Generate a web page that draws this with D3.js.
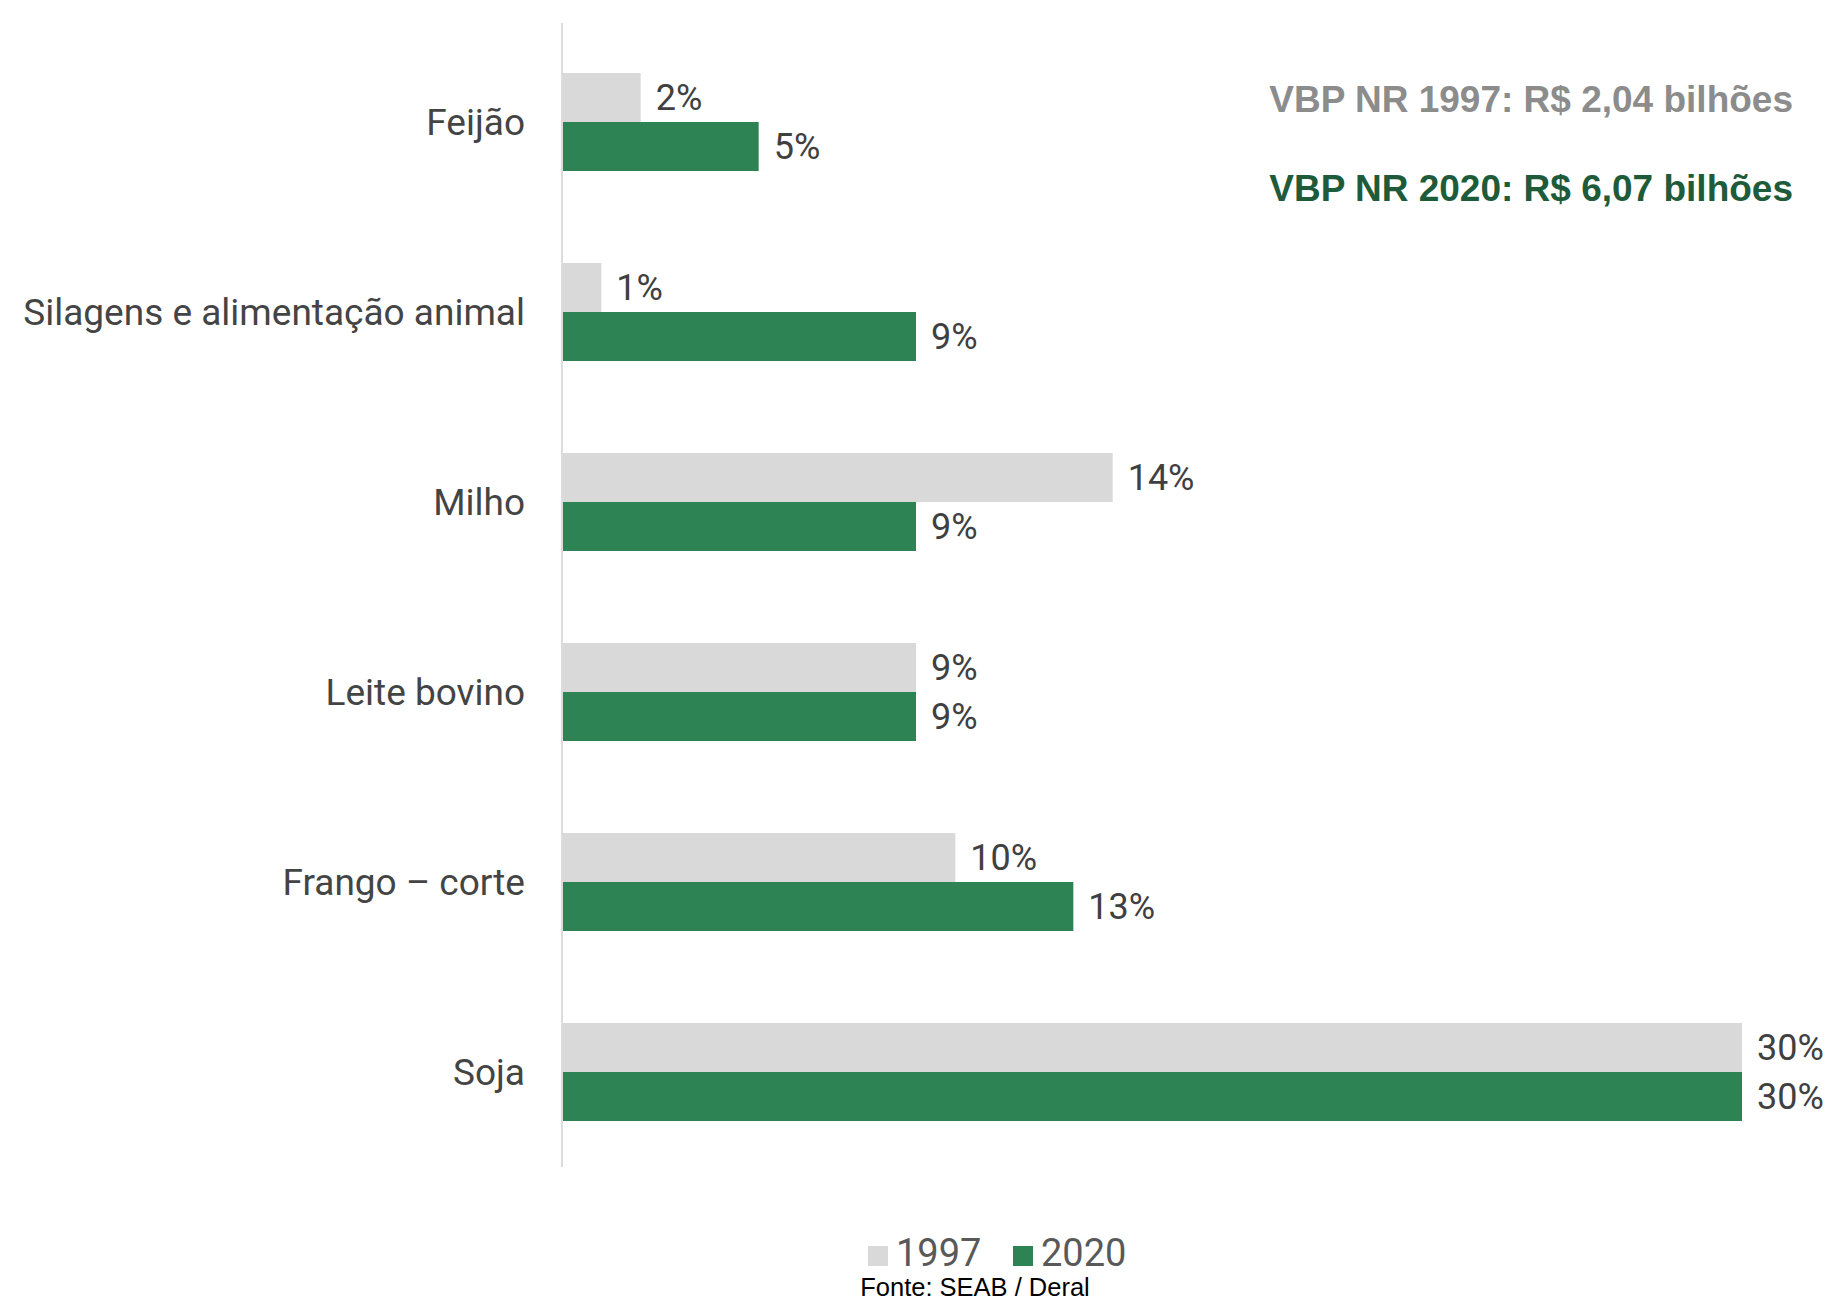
<!DOCTYPE html>
<html>
<head>
<meta charset="utf-8">
<script src="https://cdn.jsdelivr.net/npm/d3@7"></script>
<style>
  html, body { margin: 0; padding: 0; background: #ffffff; }
  svg { display: block; }
</style>
</head>
<body>
<svg id="chart" width="1833" height="1303"></svg>
<script>
// ---- data ----
const categories = ["Feijão", "Silagens e alimentação animal", "Milho", "Leite bovino", "Frango – corte", "Soja"];
const seriesNames = ["1997", "2020"];
const values1997 = [2, 1, 14, 9, 10, 30];
const values2020 = [5, 9, 9, 9, 13, 30];
const noteLines = ["VBP NR 1997: R$ 2,04 bilhões", "VBP NR 2020: R$ 6,07 bilhões"];
const sourceText = "Fonte: SEAB / Deral";

const colors = { "1997": "#d9d9d9", "2020": "#2e8355" };
const labelFont = "'Roboto', 'Lato', sans-serif";

const rows = categories.map((c, i) => ({ cat: c, "1997": values1997[i], "2020": values2020[i] }));

const svg = d3.select("#chart");

const x = d3.scaleLinear().domain([0, 30]).range([562, 1742]);
const y = d3.scaleBand().domain(categories).range([27, 1167]).paddingInner(0).paddingOuter(0);
const y1 = d3.scaleBand().domain(seriesNames).range([46, 144]).padding(0);

// vertical axis line
svg.append("line")
  .attr("x1", 562).attr("x2", 562)
  .attr("y1", 23).attr("y2", 1167)
  .attr("stroke", "#d0d0d0").attr("stroke-width", 1.5);

const groups = svg.append("g").selectAll("g")
  .data(rows).join("g")
  .attr("transform", d => `translate(0,${y(d.cat)})`);

groups.selectAll("rect")
  .data(d => seriesNames.map(s => ({ s, v: d[s] })))
  .join("rect")
  .attr("x", x(0) + 1)
  .attr("y", d => y1(d.s))
  .attr("width", d => x(d.v) - x(0) - 1)
  .attr("height", y1.bandwidth())
  .attr("fill", d => colors[d.s]);

groups.selectAll("text.val")
  .data(d => seriesNames.map(s => ({ s, v: d[s] })))
  .join("text")
  .attr("class", "val")
  .attr("x", d => x(d.v) + 15)
  .attr("y", d => y1(d.s) + y1.bandwidth() / 2)
  .attr("dy", "0.36em")
  .attr("font-family", labelFont)
  .attr("font-size", 36)
  .attr("fill", "#404040")
  .text(d => d.v + "%");

// category labels
svg.append("g").selectAll("text")
  .data(categories).join("text")
  .attr("x", 525)
  .attr("y", d => y(d) + y.bandwidth() / 2)
  .attr("dy", "0.36em")
  .attr("text-anchor", "end")
  .attr("font-family", labelFont)
  .attr("font-size", 37)
  .attr("fill", "#444444")
  .text(d => d);

// notes top right
svg.append("g").selectAll("text")
  .data(noteLines).join("text")
  .attr("x", 1793)
  .attr("y", (d, i) => 112 + i * 89)
  .attr("text-anchor", "end")
  .attr("font-family", "'Liberation Sans', Arial, sans-serif")
  .attr("font-weight", "bold")
  .attr("font-size", 37)
  .attr("fill", (d, i) => i === 0 ? "#8c8c8c" : "#1e5b3a")
  .text(d => d);

// legend
const legendItems = [
  { s: "1997", x: 868 },
  { s: "2020", x: 1013 }
];
const lg = svg.append("g").selectAll("g").data(legendItems).join("g")
  .attr("transform", d => `translate(${d.x},0)`);
lg.append("rect")
  .attr("x", 0).attr("y", 1246).attr("width", 20).attr("height", 20)
  .attr("fill", d => colors[d.s]);
lg.append("text")
  .attr("x", 28).attr("y", 1266)
  .attr("font-family", labelFont)
  .attr("font-size", 38)
  .attr("fill", "#595959")
  .text(d => d.s);

// source
svg.append("text")
  .attr("x", 975).attr("y", 1296)
  .attr("text-anchor", "middle")
  .attr("font-family", "'Liberation Sans', Arial, sans-serif")
  .attr("font-size", 25.5)
  .attr("fill", "#000000")
  .text(sourceText);
</script>
</body>
</html>
